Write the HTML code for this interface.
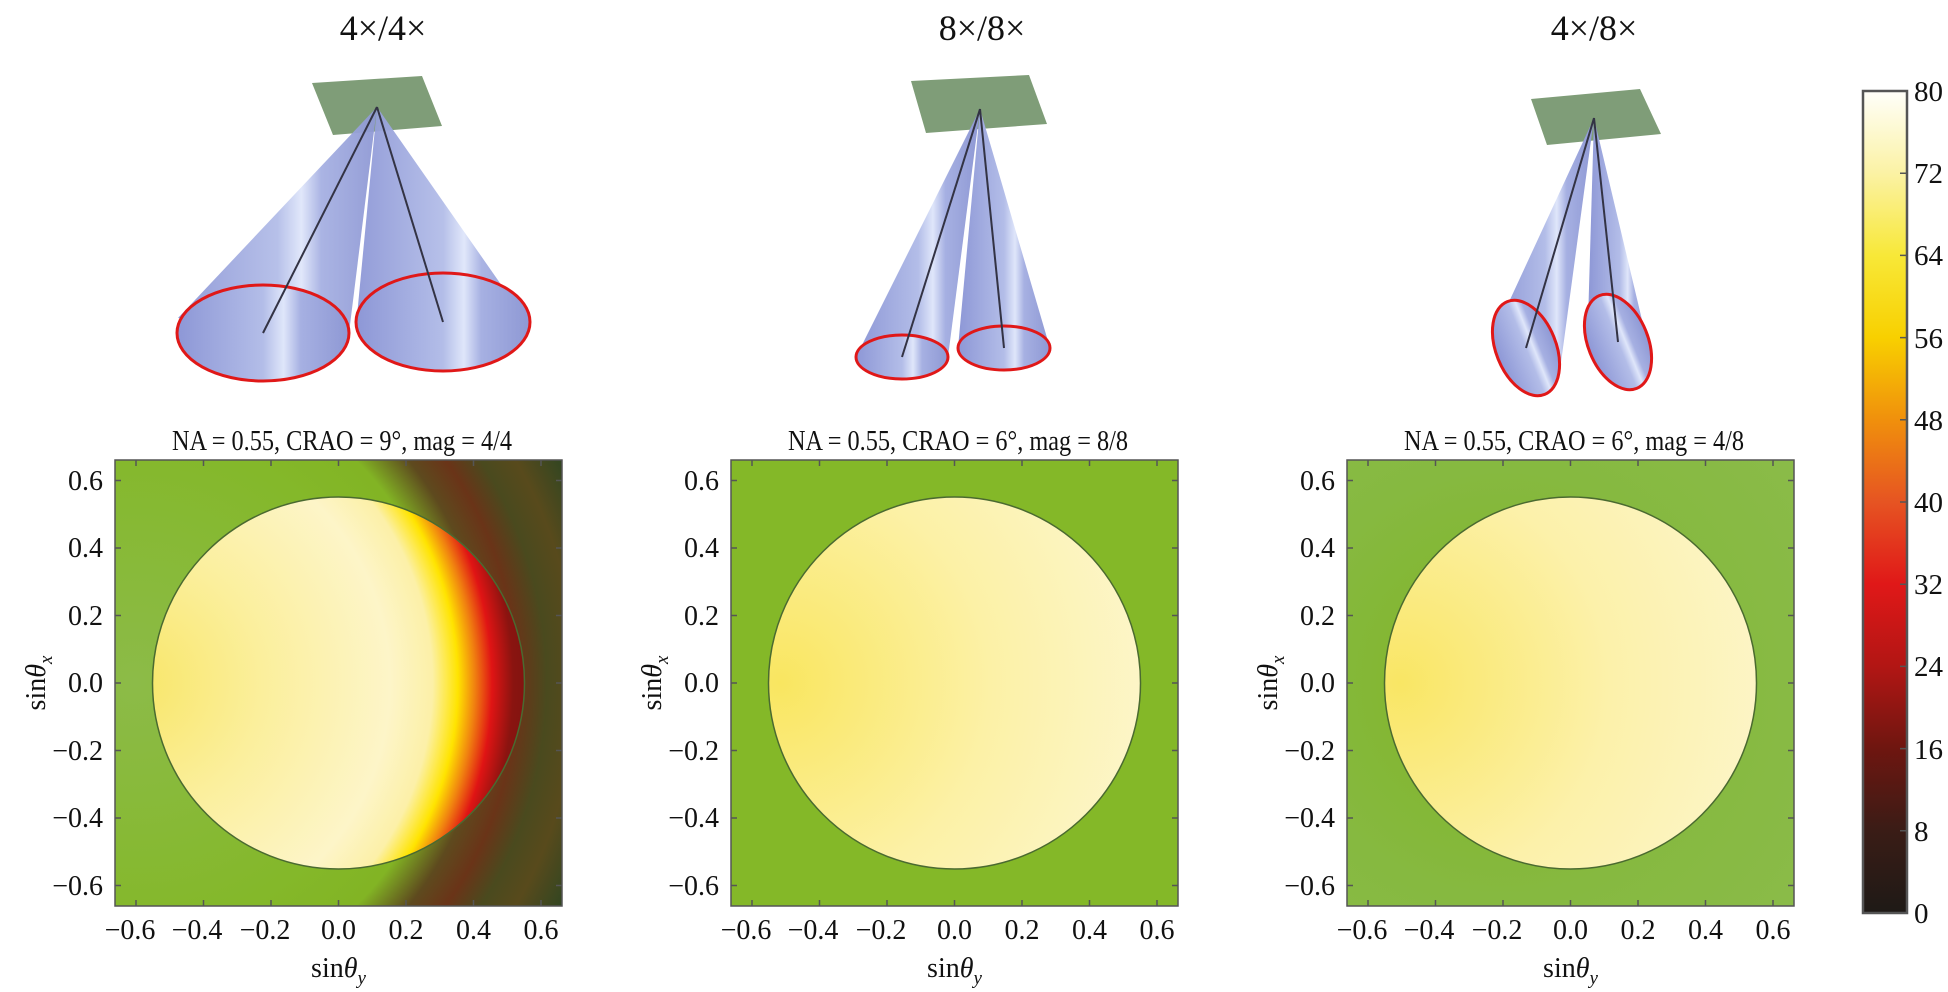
<!DOCTYPE html>
<html><head><meta charset="utf-8"><style>
html,body{margin:0;padding:0;background:#fff;}
svg{display:block;}
text{font-family:"Liberation Serif",serif;fill:#111;}
</style></head><body>
<svg width="1948" height="992" viewBox="0 0 1948 992" xmlns="http://www.w3.org/2000/svg">
<defs>
  <linearGradient id="cone" x1="0" y1="0" x2="1" y2="0">
    <stop offset="0" stop-color="#8d97d6"/><stop offset="0.5" stop-color="#b3bde8"/><stop offset="0.62" stop-color="#dfe6fa"/><stop offset="0.72" stop-color="#a6b0e2"/><stop offset="1" stop-color="#8e98d4"/>
  </linearGradient>
  <linearGradient id="cb" x1="0" y1="0" x2="0" y2="1">
    <stop offset="0" stop-color="#fffffa"/><stop offset="0.1" stop-color="#fbf2a4"/><stop offset="0.2" stop-color="#f8e838"/><stop offset="0.3" stop-color="#f8d000"/><stop offset="0.4" stop-color="#f0900c"/><stop offset="0.5" stop-color="#e65422"/><stop offset="0.6" stop-color="#e01818"/><stop offset="0.7" stop-color="#b21614"/><stop offset="0.8" stop-color="#6e1610"/><stop offset="0.9" stop-color="#3a1c16"/><stop offset="1" stop-color="#1e1a16"/>
  </linearGradient>
  <radialGradient id="bg1" gradientUnits="userSpaceOnUse" cx="135" cy="683" r="490">
    <stop offset="0" stop-color="#8cbb48"/><stop offset="0.5" stop-color="#84b82a"/><stop offset="0.64" stop-color="#82b424"/><stop offset="0.72" stop-color="#5e4a1e"/><stop offset="0.78" stop-color="#6a3418"/><stop offset="0.84" stop-color="#4a4a1e"/><stop offset="0.9" stop-color="#584a1c"/><stop offset="1" stop-color="#2a4522"/>
  </radialGradient>
  <radialGradient id="c1" gradientUnits="userSpaceOnUse" cx="135" cy="683" r="425">
    <stop offset="0" stop-color="#f8e668"/><stop offset="0.3" stop-color="#fbef9c"/><stop offset="0.6" stop-color="#fdf5c8"/><stop offset="0.7" stop-color="#fcf0a8"/><stop offset="0.76" stop-color="#ffe400"/><stop offset="0.8" stop-color="#f08010"/><stop offset="0.84" stop-color="#e01414"/><stop offset="0.89" stop-color="#8a1410"/><stop offset="1" stop-color="#6a1010"/>
  </radialGradient>
  <radialGradient id="c2" gradientUnits="userSpaceOnUse" cx="780" cy="683" r="420">
    <stop offset="0" stop-color="#f9e660"/><stop offset="0.5" stop-color="#fcf1a6"/><stop offset="1" stop-color="#fdf7d4"/>
  </radialGradient>
  <radialGradient id="c3" gradientUnits="userSpaceOnUse" cx="1400" cy="683" r="420">
    <stop offset="0" stop-color="#f9e664"/><stop offset="0.5" stop-color="#fcf1aa"/><stop offset="1" stop-color="#fdf6d0"/>
  </radialGradient>
  <radialGradient id="bg3" cx="0.35" cy="0.5" r="0.8">
    <stop offset="0" stop-color="#80b424"/><stop offset="0.6" stop-color="#86b940"/><stop offset="1" stop-color="#8abb48"/>
  </radialGradient>
</defs>

<text x="383" y="40" font-size="36" text-anchor="middle">4×/4×</text>
<text x="982" y="40" font-size="36" text-anchor="middle">8×/8×</text>
<text x="1594" y="40" font-size="36" text-anchor="middle">4×/8×</text>

<polygon points="312,83 422,76 442,126 333,135" fill="#7f9d78"/>
<polygon points="377,107 178,318 349,333" fill="url(#cone)" opacity="0.95"/>
<ellipse cx="263" cy="333" rx="86" ry="48" fill="url(#cone)" stroke="#e01818" stroke-width="3"/>
<polygon points="377,107 357,316 530,326" fill="url(#cone)" opacity="0.95"/>
<ellipse cx="443" cy="322" rx="87" ry="49" fill="url(#cone)" stroke="#e01818" stroke-width="3"/>
<line x1="377" y1="107" x2="263" y2="333" stroke="#334" stroke-width="2"/>
<line x1="377" y1="107" x2="443" y2="322" stroke="#334" stroke-width="2"/>

<polygon points="911,81 1029,75 1047,124 926,133" fill="#7f9d78"/>
<polygon points="980,109 856,357 948,357" fill="url(#cone)"/>
<ellipse cx="902" cy="357" rx="46" ry="22" fill="url(#cone)" stroke="#e01818" stroke-width="3"/>
<polygon points="980,109 958,348 1050,348" fill="url(#cone)"/>
<ellipse cx="1004" cy="348" rx="46" ry="22" fill="url(#cone)" stroke="#e01818" stroke-width="3"/>
<line x1="980" y1="109" x2="902" y2="357" stroke="#334" stroke-width="2"/>
<line x1="980" y1="109" x2="1004" y2="348" stroke="#334" stroke-width="2"/>

<polygon points="1531,99 1640,89 1661,134 1547,145" fill="#7f9d78"/>
<polygon points="1594,118 1496,330 1560,370" fill="url(#cone)"/>
<ellipse cx="1526" cy="348" rx="30" ry="50" transform="rotate(-22 1526 348)" fill="url(#cone)" stroke="#e01818" stroke-width="3"/>
<polygon points="1594,118 1588,322 1652,362" fill="url(#cone)"/>
<ellipse cx="1618" cy="342" rx="30" ry="50" transform="rotate(-22 1618 342)" fill="url(#cone)" stroke="#e01818" stroke-width="3"/>
<line x1="1594" y1="118" x2="1526" y2="348" stroke="#334" stroke-width="2"/>
<line x1="1594" y1="118" x2="1618" y2="342" stroke="#334" stroke-width="2"/>

<text x="172" y="450" font-size="29" textLength="340" lengthAdjust="spacingAndGlyphs">NA = 0.55, CRAO = 9°, mag = 4/4</text>
<text x="788" y="450" font-size="29" textLength="340" lengthAdjust="spacingAndGlyphs">NA = 0.55, CRAO = 6°, mag = 8/8</text>
<text x="1404" y="450" font-size="29" textLength="340" lengthAdjust="spacingAndGlyphs">NA = 0.55, CRAO = 6°, mag = 4/8</text>

<rect x="115" y="460" width="447" height="446" fill="url(#bg1)"/>
<circle cx="338.5" cy="683" r="186" fill="url(#c1)" stroke="#4a6a30" stroke-width="1.5"/>
<rect x="731" y="460" width="447" height="446" fill="#84b828"/>
<circle cx="954.5" cy="683" r="186" fill="url(#c2)" stroke="#4a6a30" stroke-width="1.5"/>
<rect x="1347" y="460" width="447" height="446" fill="url(#bg3)"/>
<circle cx="1570.5" cy="683" r="186" fill="url(#c3)" stroke="#4a6a30" stroke-width="1.5"/>

<g fill="none" stroke="#555" stroke-width="1.5">
  <rect x="115" y="460" width="447" height="446"/>
  <rect x="731" y="460" width="447" height="446"/>
  <rect x="1347" y="460" width="447" height="446"/>
</g>
<g stroke="#555" stroke-width="1.5">
  <path d="M136,906v-6M203.5,906v-6M271,906v-6M338.5,906v-6M406,906v-6M473.5,906v-6M541,906v-6
           M136,460v6M203.5,460v6M271,460v6M338.5,460v6M406,460v6M473.5,460v6M541,460v6
           M115,480.5h6M115,548h6M115,615.5h6M115,683h6M115,750.5h6M115,818h6M115,885.5h6
           M562,480.5h-6M562,548h-6M562,615.5h-6M562,683h-6M562,750.5h-6M562,818h-6M562,885.5h-6"/>
  <path transform="translate(616 0)" d="M136,906v-6M203.5,906v-6M271,906v-6M338.5,906v-6M406,906v-6M473.5,906v-6M541,906v-6
           M136,460v6M203.5,460v6M271,460v6M338.5,460v6M406,460v6M473.5,460v6M541,460v6
           M115,480.5h6M115,548h6M115,615.5h6M115,683h6M115,750.5h6M115,818h6M115,885.5h6
           M562,480.5h-6M562,548h-6M562,615.5h-6M562,683h-6M562,750.5h-6M562,818h-6M562,885.5h-6"/>
  <path transform="translate(1232 0)" d="M136,906v-6M203.5,906v-6M271,906v-6M338.5,906v-6M406,906v-6M473.5,906v-6M541,906v-6
           M136,460v6M203.5,460v6M271,460v6M338.5,460v6M406,460v6M473.5,460v6M541,460v6
           M115,480.5h6M115,548h6M115,615.5h6M115,683h6M115,750.5h6M115,818h6M115,885.5h6
           M562,480.5h-6M562,548h-6M562,615.5h-6M562,683h-6M562,750.5h-6M562,818h-6M562,885.5h-6"/>
</g>

<g font-size="28">
  <g text-anchor="end">
    <text x="103" y="490">0.6</text><text x="103" y="557">0.4</text><text x="103" y="625">0.2</text><text x="103" y="692">0.0</text>
    <text x="103" y="760">−0.2</text><text x="103" y="827">−0.4</text><text x="103" y="895">−0.6</text>
  </g>
  <g text-anchor="middle">
    <text x="130" y="939">−0.6</text><text x="197" y="939">−0.4</text><text x="265" y="939">−0.2</text><text x="338.5" y="939">0.0</text>
    <text x="406" y="939">0.2</text><text x="473.5" y="939">0.4</text><text x="541" y="939">0.6</text>
  </g>
  <text x="338.5" y="977" text-anchor="middle" font-size="28">sin<tspan font-style="italic">θ</tspan><tspan font-style="italic" font-size="19" dy="7">y</tspan></text>
  <text transform="translate(45 683) rotate(-90)" text-anchor="middle" font-size="28">sin<tspan font-style="italic">θ</tspan><tspan font-style="italic" font-size="19" dy="7">x</tspan></text>
</g>
<g font-size="28" transform="translate(616 0)">
  <g text-anchor="end">
    <text x="103" y="490">0.6</text><text x="103" y="557">0.4</text><text x="103" y="625">0.2</text><text x="103" y="692">0.0</text>
    <text x="103" y="760">−0.2</text><text x="103" y="827">−0.4</text><text x="103" y="895">−0.6</text>
  </g>
  <g text-anchor="middle">
    <text x="130" y="939">−0.6</text><text x="197" y="939">−0.4</text><text x="265" y="939">−0.2</text><text x="338.5" y="939">0.0</text>
    <text x="406" y="939">0.2</text><text x="473.5" y="939">0.4</text><text x="541" y="939">0.6</text>
  </g>
  <text x="338.5" y="977" text-anchor="middle" font-size="28">sin<tspan font-style="italic">θ</tspan><tspan font-style="italic" font-size="19" dy="7">y</tspan></text>
  <text transform="translate(45 683) rotate(-90)" text-anchor="middle" font-size="28">sin<tspan font-style="italic">θ</tspan><tspan font-style="italic" font-size="19" dy="7">x</tspan></text>
</g>
<g font-size="28" transform="translate(1232 0)">
  <g text-anchor="end">
    <text x="103" y="490">0.6</text><text x="103" y="557">0.4</text><text x="103" y="625">0.2</text><text x="103" y="692">0.0</text>
    <text x="103" y="760">−0.2</text><text x="103" y="827">−0.4</text><text x="103" y="895">−0.6</text>
  </g>
  <g text-anchor="middle">
    <text x="130" y="939">−0.6</text><text x="197" y="939">−0.4</text><text x="265" y="939">−0.2</text><text x="338.5" y="939">0.0</text>
    <text x="406" y="939">0.2</text><text x="473.5" y="939">0.4</text><text x="541" y="939">0.6</text>
  </g>
  <text x="338.5" y="977" text-anchor="middle" font-size="28">sin<tspan font-style="italic">θ</tspan><tspan font-style="italic" font-size="19" dy="7">y</tspan></text>
  <text transform="translate(45 683) rotate(-90)" text-anchor="middle" font-size="28">sin<tspan font-style="italic">θ</tspan><tspan font-style="italic" font-size="19" dy="7">x</tspan></text>
</g>

<rect x="1863" y="91" width="44" height="822" fill="url(#cb)" stroke="#555" stroke-width="2.5"/>
<g stroke="#555" stroke-width="1.5">
  <path d="M1907,173.2h-7M1907,255.4h-7M1907,337.6h-7M1907,419.8h-7M1907,502h-7M1907,584.2h-7M1907,666.4h-7M1907,748.6h-7M1907,830.8h-7"/>
</g>
<g font-size="29">
  <text x="1914" y="101">80</text><text x="1914" y="183">72</text><text x="1914" y="265">64</text><text x="1914" y="348">56</text>
  <text x="1914" y="430">48</text><text x="1914" y="512">40</text><text x="1914" y="594">32</text><text x="1914" y="676">24</text>
  <text x="1914" y="759">16</text><text x="1914" y="841">8</text><text x="1914" y="923">0</text>
</g>
</svg>
</body></html>
